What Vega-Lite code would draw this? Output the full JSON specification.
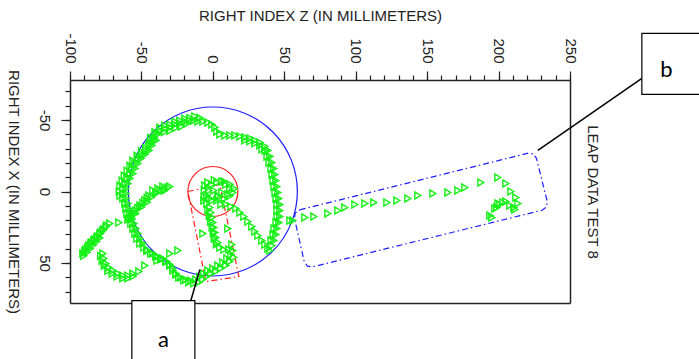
{
  "$schema": "https://vega.github.io/schema/vega-lite/v6.json",
  "width": 500,
  "height": 223,
  "autosize": {"type": "none"},
  "padding": {"left": 70, "top": 80, "right": 129, "bottom": 56},
  "background": "white",
  "config": {
    "view": {"stroke": null},
    "font": "Liberation Sans",
    "axis": {"grid": false, "domainColor": "#222", "tickColor": "#222", "labelColor": "#222", "titleColor": "#222", "labelFont": "Liberation Sans", "titleFont": "Liberation Sans", "titleFontWeight": "normal", "labelFontSize": 15, "titleFontSize": 15, "domainWidth": 1.5, "tickWidth": 1.2}
  },
  "datasets": {
    "pts": [
      {"z":-91,"x":43.4},{"z":-89.6,"x":41.7},{"z":-88.9,"x":40.6},{"z":-87.5,"x":39.2},{"z":-86.8,"x":37.8},{"z":-85.4,"x":36.4},{"z":-84.7,"x":35.7},{"z":-83.3,"x":34.3},{"z":-82.6,"x":33.6},{"z":-81.2,"x":32.2},{"z":-80.5,"x":31.5},{"z":-79.1,"x":29.7},{"z":-78.4,"x":28.7},{"z":-77,"x":27.3},{"z":-76.3,"x":26.6},{"z":-74.9,"x":24.9},{"z":-74.2,"x":23.8},{"z":-72.1,"x":22.4},{"z":-65.8,"x":21.7},{"z":-59.5,"x":19.6},
      {"z":-90.3,"x":45},{"z":-88,"x":42.5},{"z":-85.8,"x":40},{"z":-83.6,"x":37.5},{"z":-81.4,"x":35},{"z":-79.2,"x":32.5},
      {"z":-31.5,"x":-2.8},{"z":-35,"x":-3.5},{"z":-38.5,"x":-2.1},{"z":-42,"x":-0.7},{"z":-44.8,"x":2.8},{"z":-47.6,"x":6.3},{"z":-51.1,"x":9.8},{"z":-53.9,"x":13.3},{"z":-56.7,"x":16.8},{"z":-58.1,"x":18.9},{"z":-37.1,"x":-0.7},{"z":-33.6,"x":-1.4},{"z":-30.1,"x":-3.5},{"z":-40,"x":0.5},{"z":-46,"x":4.5},{"z":-49,"x":8},{"z":-52.5,"x":11.5},{"z":-55.3,"x":15},
      {"z":-34,"x":-0.5},{"z":-39,"x":1},{"z":-43,"x":4},{"z":-46,"x":7.5},{"z":-50,"x":11},{"z":-54,"x":15.5},{"z":-57,"x":19.5},
      {"z":-12.6,"x":-52.5},{"z":-9,"x":-51.5},{"z":-16,"x":-51.5},
      {"z":-16.1,"x":-49.7},{"z":-19.6,"x":-49},{"z":-23.1,"x":-47.6},{"z":-26.6,"x":-46.9},{"z":-30.1,"x":-44.8},{"z":-33.6,"x":-44.1},{"z":-37.1,"x":-42.7},{"z":-39.2,"x":-39.9},{"z":-42,"x":-35.7},{"z":-44.8,"x":-32.2},{"z":-46.9,"x":-28.7},{"z":-49.7,"x":-25.9},{"z":-52.5,"x":-23.1},{"z":-54.6,"x":-19.6},{"z":-56.7,"x":-16.1},{"z":-58.1,"x":-12.6},{"z":-60.2,"x":-9.1},{"z":-61.6,"x":-5.6},{"z":-63,"x":-2.1},{"z":-63,"x":1.4},{"z":-63,"x":4.9},{"z":-61.6,"x":8.4},{"z":-60.9,"x":11.9},{"z":-60.2,"x":15.4},{"z":-58.8,"x":18.9},{"z":-57.4,"x":22.4},{"z":-56,"x":25.9},{"z":-54.6,"x":29.4},{"z":-53.2,"x":32.9},{"z":-51.1,"x":36.4},{"z":-48.3,"x":39.2},{"z":-45.5,"x":41.3},{"z":-42,"x":43.4},{"z":-38.5,"x":45.5},{"z":-35,"x":46.9},{"z":-32.2,"x":49},{"z":-30.1,"x":51.8},{"z":-28,"x":55.3},{"z":-25.9,"x":58.1},{"z":-22.4,"x":60.2},{"z":-18.9,"x":61.6},{"z":-15.4,"x":62.3},{"z":-11.9,"x":61.6},{"z":-9.1,"x":59.5},{"z":-6.3,"x":57.4},{"z":-3.5,"x":55.3},{"z":0,"x":53.9},{"z":3.5,"x":51.8},{"z":7,"x":49.7},{"z":9.8,"x":46.9},{"z":12.6,"x":44.1},{"z":14,"x":41.3},
      {"z":-18,"x":-47.5},{"z":-22,"x":-45.5},{"z":-26,"x":-44.5},{"z":-30,"x":-42.5},{"z":-34,"x":-41.5},{"z":-38,"x":-40.5},{"z":-41,"x":-37.5},{"z":-44,"x":-34},{"z":-47,"x":-30.5},{"z":-50,"x":-28},{"z":-53,"x":-25},{"z":-56,"x":-21.5},{"z":-58,"x":-18},{"z":-60,"x":-14.5},{"z":-62,"x":-11},{"z":-63.5,"x":-7.5},{"z":-65,"x":-4},{"z":-65.5,"x":0},{"z":-65,"x":3},
      {"z":-19.6,"x":-51},{"z":-23.1,"x":-49.6},{"z":-26.6,"x":-48.9},{"z":-30.1,"x":-46.8},{"z":-33.6,"x":-46.1},{"z":-37.1,"x":-44.7},{"z":-40.5,"x":-41.5},{"z":-43.5,"x":-37.5},
      {"z":-39.8,"x":-35.7},{"z":-42.6,"x":-32.2},{"z":-44.7,"x":-28.7},{"z":-47.5,"x":-25.9},{"z":-50.3,"x":-23.1},{"z":-52.4,"x":-19.6},{"z":-54.5,"x":-16.1},{"z":-55.9,"x":-12.6},{"z":-58,"x":-9.1},{"z":-59.4,"x":-5.6},{"z":-60.8,"x":-2.1},{"z":-60.8,"x":1.4},{"z":-60.8,"x":4.9},{"z":-59.4,"x":8.4},{"z":-58.7,"x":11.9},{"z":-58,"x":15.4},{"z":-56.6,"x":18.9},{"z":-55.2,"x":22.4},{"z":-53.8,"x":25.9},{"z":-52.4,"x":29.4},{"z":-51,"x":32.9},{"z":-48.9,"x":36.4},
      {"z":-46.3,"x":41.2},{"z":-43.5,"x":43.3},{"z":-40,"x":45.4},{"z":-36.5,"x":47.5},{"z":-33,"x":48.9},{"z":-30.2,"x":51},{"z":-28.1,"x":53.8},{"z":-26,"x":57.3},{"z":-23.9,"x":60.1},{"z":-20.4,"x":62.2},{"z":-16.9,"x":63.6},{"z":-13.4,"x":64.3},{"z":-9.9,"x":63.6},{"z":-7.1,"x":61.5},{"z":-4.3,"x":59.4},{"z":-1.5,"x":57.3},{"z":2,"x":55.9},{"z":5.5,"x":53.8},{"z":9,"x":51.7},{"z":11.8,"x":48.9},{"z":14.6,"x":46.1},
      {"z":-13.3,"x":-49.7},{"z":-10.5,"x":-49},{"z":-7,"x":-49},{"z":-3.5,"x":-48.3},{"z":-0.7,"x":-46.9},{"z":1.4,"x":-44.8},{"z":2.8,"x":-42},{"z":4.9,"x":-39.9},{"z":8.4,"x":-39.2},{"z":11.9,"x":-39.2},{"z":15.4,"x":-39.2},{"z":18.9,"x":-38.5},{"z":22.4,"x":-37.8},{"z":25.9,"x":-37.1},{"z":29.4,"x":-35.7},{"z":32.9,"x":-34.3},{"z":36.4,"x":-31.5},{"z":38.5,"x":-28.7},{"z":39.9,"x":-24.5},{"z":41.3,"x":-20.3},{"z":42.7,"x":-16.1},{"z":43.4,"x":-11.9},{"z":44.1,"x":-7.7},{"z":44.8,"x":-3.5},{"z":45.5,"x":0.7},{"z":46.2,"x":4.9},{"z":46.9,"x":9.1},{"z":46.9,"x":13.3},{"z":46.9,"x":17.5},{"z":46.2,"x":21.7},{"z":44.8,"x":25.9},{"z":44.1,"x":30.1},{"z":42.7,"x":34.3},{"z":41.3,"x":37.8},{"z":39.9,"x":41.3},
      {"z":22.4,"x":-35.8},{"z":25.9,"x":-35.1},{"z":29.4,"x":-33.7},{"z":32.9,"x":-32.3},{"z":34.4,"x":-29.5},
      {"z":36.5,"x":-28.7},{"z":37.9,"x":-24.5},{"z":39.3,"x":-20.3},{"z":40.7,"x":-16.1},{"z":41.4,"x":-11.9},{"z":42.1,"x":-7.7},{"z":42.8,"x":-3.5},{"z":43.5,"x":0.7},{"z":44.2,"x":4.9},{"z":44.9,"x":9.1},{"z":44.9,"x":13.3},{"z":44.9,"x":17.5},{"z":44.2,"x":21.7},{"z":42.8,"x":25.9},{"z":42.1,"x":30.1},{"z":40.7,"x":34.3},
      {"z":-5.6,"x":-4.2},{"z":-3.5,"x":-6.3},{"z":-0.7,"x":-4.9},{"z":2.8,"x":-6.3},{"z":6.3,"x":-7},{"z":9.1,"x":-4.9},{"z":11.9,"x":-2.1},{"z":14,"x":0.7},{"z":10.5,"x":2.1},{"z":6.3,"x":0.7},{"z":3.5,"x":2.8},{"z":0.7,"x":-0.7},{"z":-4.2,"x":2.8},{"z":-6.3,"x":6.3},{"z":-4.2,"x":8.4},{"z":-0.7,"x":6.3},{"z":2.8,"x":6.3},{"z":5.6,"x":9.1},{"z":-2.8,"x":-0.7},{"z":-2.1,"x":4.9},
      {"z":8,"x":-7},{"z":12,"x":-5},{"z":15,"x":-2},{"z":1,"x":-8},{"z":-6,"x":-1},{"z":-6,"x":4},{"z":4,"x":4},{"z":8,"x":5},{"z":12,"x":3},
      {"z":-2.1,"x":11.2},{"z":-1.4,"x":14.7},{"z":-0.7,"x":18.2},{"z":0,"x":21.7},{"z":0.7,"x":25.2},{"z":1.4,"x":28.7},{"z":2.1,"x":32.2},{"z":3.5,"x":35.7},{"z":4.9,"x":39.2},{"z":7.7,"x":40.6},{"z":11.2,"x":40.6},{"z":13.3,"x":37.1},
      {"z":-3.5,"x":13},{"z":-2.5,"x":17},{"z":-1.5,"x":21},{"z":-0.5,"x":25},{"z":0.3,"x":29},{"z":1,"x":33},{"z":2.5,"x":37},
      {"z":9.1,"x":9.1},{"z":12.6,"x":10.5},{"z":16.1,"x":11.9},{"z":18.9,"x":14.7},{"z":21.7,"x":17.5},{"z":24.5,"x":21},{"z":27.3,"x":24.5},{"z":29.4,"x":28},{"z":31.5,"x":30.8},{"z":34.3,"x":34.3},{"z":36.4,"x":37.1},{"z":38.5,"x":39.9},
      {"z":-77,"x":43.4},{"z":-76.3,"x":46.9},{"z":-74.9,"x":50.4},{"z":-72.8,"x":53.2},{"z":-70,"x":55.3},{"z":-66.5,"x":57.4},{"z":-63,"x":58.8},{"z":-59.5,"x":58.8},{"z":-56,"x":57.4},{"z":-51.8,"x":56},{"z":-47.6,"x":51.8},{"z":-39.2,"x":48.3},{"z":-30.1,"x":43.4},{"z":-24.5,"x":41.3},
      {"z":-78.5,"x":45},{"z":-77.5,"x":48.5},{"z":-76,"x":52},{"z":-73.5,"x":55.5},{"z":-70.5,"x":57.5},{"z":-67,"x":59.5},{"z":-63,"x":60.8},{"z":-59.5,"x":60.8},{"z":-56,"x":59.4},
      {"z":-7,"x":29.4},{"z":10.5,"x":25.9},{"z":53.9,"x":20.3},
      {"z":56,"x":20.3},{"z":64.4,"x":18.2},{"z":70.7,"x":17.5},{"z":80.5,"x":15.4},{"z":87.5,"x":13.3},{"z":92.4,"x":11.2},{"z":99.4,"x":9.1},{"z":106.4,"x":8.4},{"z":112.7,"x":7.7},{"z":121.8,"x":7.7},{"z":128.8,"x":6.3},{"z":136.5,"x":4.9},{"z":143.5,"x":2.8},{"z":154,"x":1.4},{"z":164.5,"x":0.7},{"z":171.5,"x":-0.7},{"z":176.4,"x":-2.8},{"z":187.6,"x":-6.3},{"z":199.5,"x":-9.8},{"z":205.1,"x":-5.6},{"z":208.6,"x":0},{"z":212.1,"x":4.2},{"z":213.5,"x":8.4},{"z":211.4,"x":12.6},{"z":207.9,"x":9.8},{"z":203,"x":7.7},{"z":199.5,"x":8.4},{"z":197.4,"x":11.9},{"z":193.9,"x":16.8},{"z":195.3,"x":18.2},{"z":198.8,"x":11.2},{"z":210.7,"x":11.2},{"z":205.1,"x":7},{"z":200.9,"x":9.1}
    ],
    "redrect": [
      {"i":1,"z":-17.5,"x":0},{"i":2,"z":4.9,"x":-4.9},{"i":3,"z":18.2,"x":59.5},{"i":4,"z":-4.9,"x":63},{"i":5,"z":-17.5,"x":0}
    ],
    "bluerect": [
      {"i":1,"z":60.8,"x":12.8},{"i":2,"z":220.6,"x":-26.8},{"i":3,"z":224.4,"x":-26.3},{"i":4,"z":226.5,"x":-23.2},{"i":5,"z":234.1,"x":7.1},{"i":6,"z":233.5,"x":10.9},{"i":7,"z":230.4,"x":13.1},{"i":8,"z":69.9,"x":52.7},{"i":9,"z":66.2,"x":52.2},{"i":10,"z":64,"x":49.1},{"i":11,"z":57.1,"x":18.8},{"i":12,"z":57.7,"x":15.1},{"i":13,"z":60.8,"x":12.8}
    ],
    "leaders": [
      {"z":-15.4,"x":76.3,"z2":-9.1,"x2":54.6},
      {"z":300.3,"x":-79.1,"z2":227.5,"x2":-28.7}
    ],
    "boxes": [
      {"label":"a","z":-56.7,"z2":-12.6,"x":76.3,"x2":125,"tz":-34.6,"tx":104},
      {"label":"b","z":300.3,"z2":345,"x":-110.6,"x2":-67.9,"tz":317.5,"tx":-85}
    ],
    "center": [{"z":0,"x":0}]
  },
  "resolve": {"axis": {"x": "independent", "y": "independent"}},
  "layer": [
    {
      "data": {"name": "center"},
      "mark": {"type": "point", "shape": "circle", "filled": false, "color": "#1f1fff", "size": 28561, "strokeWidth": 1.2, "opacity": 1, "clip": false},
      "encoding": {
        "x": {"field": "z", "type": "quantitative", "scale": {"domain": [-100, 250], "nice": false, "zero": false},
          "axis": {"orient": "top", "values": [-100,-90,-80,-70,-60,-50,-40,-30,-20,-10,0,10,20,30,40,50,60,70,80,90,100,110,120,130,140,150,160,170,180,190,200,210,220,230,240,250], "tickSize": 5, "labels": false, "domain": false, "title": null}},
        "y": {"field": "x", "type": "quantitative", "scale": {"domain": [-78, 78], "reverse": true, "nice": false, "zero": false},
          "axis": {"orient": "left", "values": [-70,-60,-50,-40,-30,-20,-10,0,10,20,30,40,50,60,70], "tickSize": 5, "labels": false, "domain": false, "title": null}}
      }
    },
    {
      "data": {"name": "center"},
      "mark": {"type": "point", "shape": "circle", "filled": false, "color": "#ff1f1f", "size": 2500, "strokeWidth": 1.2, "opacity": 1, "clip": false},
      "encoding": {
        "x": {"field": "z", "type": "quantitative", "axis": {"orient": "bottom", "ticks": false, "labels": false, "title": null}},
        "y": {"field": "x", "type": "quantitative", "axis": {"orient": "right", "ticks": false, "labels": false, "title": "LEAP DATA TEST 8", "titlePadding": 14}}
      }
    },
    {
      "data": {"name": "redrect"},
      "mark": {"type": "line", "color": "#ff1f1f", "strokeWidth": 1.2, "strokeDash": [6, 3, 1.5, 3], "clip": false},
      "encoding": {
        "x": {"field": "z", "type": "quantitative", "axis": null},
        "y": {"field": "x", "type": "quantitative", "axis": null},
        "order": {"field": "i", "type": "quantitative"}
      }
    },
    {
      "data": {"name": "bluerect"},
      "mark": {"type": "line", "color": "#1f1fff", "strokeWidth": 1.2, "strokeDash": [6, 3, 1.5, 3], "clip": false},
      "encoding": {
        "x": {"field": "z", "type": "quantitative", "axis": null},
        "y": {"field": "x", "type": "quantitative", "axis": null},
        "order": {"field": "i", "type": "quantitative"}
      }
    },
    {
      "data": {"name": "pts"},
      "mark": {"type": "point", "shape": "triangle-right", "filled": false, "color": "#14f014", "size": 48, "strokeWidth": 1.4, "opacity": 1, "clip": false},
      "encoding": {
        "x": {"field": "z", "type": "quantitative",
          "axis": {"orient": "top", "values": [-100, -50, 0, 50, 100, 150, 200, 250], "tickSize": 9, "labelAngle": 90, "labelAlign": "right", "labelBaseline": "middle", "labelPadding": 8, "labelExpr": "datum.value + ''", "title": "RIGHT INDEX Z (IN MILLIMETERS)", "titlePadding": 9}},
        "y": {"field": "x", "type": "quantitative",
          "axis": {"orient": "left", "values": [-50, 0, 50], "tickSize": 9, "labelAngle": 90, "labelAlign": "center", "labelBaseline": "top", "labelPadding": 10, "labelExpr": "datum.value + ''", "title": "RIGHT INDEX X (IN MILLIMETERS)", "titleAngle": 90, "titleBaseline": "top", "titlePadding": 16}}
      }
    },
    {
      "data": {"name": "leaders"},
      "mark": {"type": "rule", "color": "black", "strokeWidth": 1.5, "clip": false},
      "encoding": {
        "x": {"field": "z", "type": "quantitative", "axis": null},
        "y": {"field": "x", "type": "quantitative", "axis": null},
        "x2": {"field": "z2"},
        "y2": {"field": "x2"}
      }
    },
    {
      "data": {"name": "boxes"},
      "mark": {"type": "rect", "fill": "white", "stroke": "black", "strokeWidth": 1.2, "clip": false},
      "encoding": {
        "x": {"field": "z", "type": "quantitative", "axis": null},
        "x2": {"field": "z2"},
        "y": {"field": "x", "type": "quantitative", "axis": null},
        "y2": {"field": "x2"}
      }
    },
    {
      "data": {"name": "boxes"},
      "mark": {"type": "text", "font": "Lato", "fontSize": 22, "color": "black", "baseline": "middle", "align": "center", "clip": false},
      "encoding": {
        "x": {"field": "tz", "type": "quantitative", "axis": null},
        "y": {"field": "tx", "type": "quantitative", "axis": null},
        "text": {"field": "label"}
      }
    }
  ]
}
